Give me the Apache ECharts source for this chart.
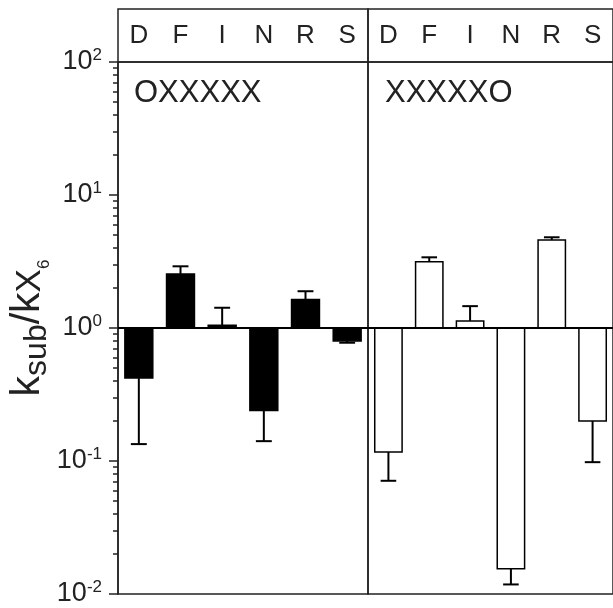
<!DOCTYPE html>
<html>
<head>
<meta charset="utf-8">
<script src="https://cdn.jsdelivr.net/npm/echarts@6/dist/echarts.min.js"></script>
<style>
html,body{margin:0;padding:0;background:#fff;}
#chart{width:613px;height:608px;}
</style>
</head>
<body>
<div id="chart"></div>
<script>
// ---- data ----
const categories = ['D', 'F', 'I', 'N', 'R', 'S'];
const panelLabels = ['OXXXXX', 'XXXXXO'];
// OXXXXX panel (black bars): ratio and end of error bar
const oxValues  = [0.42, 2.55, 1.05, 0.24, 1.64, 0.80];
const oxErrEnds = [0.134, 2.91, 1.42, 0.141, 1.89, 0.775];
// XXXXXO panel (white bars)
const xoValues  = [0.117, 3.15, 1.13, 0.0155, 4.59, 0.20];
const xoErrEnds = [0.071, 3.40, 1.46, 0.0118, 4.81, 0.098];
// axis ticks
const majorTicks = [0.01, 0.1, 1, 10, 100];
const minorTicks = [
  0.02, 0.03, 0.04, 0.05, 0.06, 0.07, 0.08, 0.09,
  0.2, 0.3, 0.4, 0.5, 0.6, 0.7, 0.8, 0.9,
  2, 3, 4, 5, 6, 7, 8, 9,
  20, 30, 40, 50, 60, 70, 80, 90
];
const baseValue = 1;

const FONT = 'Liberation Sans, Arial, sans-serif';
const INK = '#222';

function buildData(values, errs) {
  return values.map((v, i) => [i, v, errs[i]]);
}

function makeRender(fill) {
  return function (params, api) {
    const i = api.value(0), v = api.value(1), e = api.value(2);
    const p0 = api.coord([i, baseValue]);
    const p1 = api.coord([i, v]);
    const pe = api.coord([i, e]);
    const bw = api.size([1, 1])[0] * 0.67;
    const cap = bw * 0.57;
    const cs = params.coordSys;
    const children = [
      { type: 'line', shape: { x1: p1[0], y1: p1[1], x2: pe[0], y2: pe[1] }, style: { stroke: '#000', lineWidth: 2 } },
      { type: 'line', shape: { x1: pe[0] - cap / 2, y1: pe[1], x2: pe[0] + cap / 2, y2: pe[1] }, style: { stroke: '#000', lineWidth: 2 } },
      { type: 'rect', shape: { x: p0[0] - bw / 2, y: Math.min(p0[1], p1[1]), width: bw, height: Math.abs(p1[1] - p0[1]) },
        style: { fill: fill, stroke: '#000', lineWidth: 1.5 } }
    ];
    if (params.dataIndex === 0) {
      children.push({ type: 'line', z2: 10,
        shape: { x1: cs.x, y1: p0[1], x2: cs.x + cs.width, y2: p0[1] },
        style: { stroke: '#000', lineWidth: 2 } });
    }
    return { type: 'group', children: children };
  };
}

const gridStyle = { show: true, borderColor: INK, borderWidth: 1.5, backgroundColor: 'transparent' };
const hiddenCat = (g) => ({ gridIndex: g, type: 'category', data: categories, show: false });

const letterAxis = (g) => ({
  gridIndex: g, type: 'category', data: categories, position: 'top',
  axisLine: { show: false }, axisTick: { show: false }, splitLine: { show: false },
  axisLabel: { inside: true, margin: 14, fontSize: 26, fontFamily: FONT, color: INK, interval: 0 }
});

const chart = echarts.init(document.getElementById('chart'), null, { renderer: 'canvas' });
chart.setOption({
  animation: false,
  backgroundColor: '#fff',
  title: [
    { text: panelLabels[0], left: 134, top: 78, padding: 0,
      textStyle: { fontSize: 31, fontWeight: 'normal', fontFamily: FONT, color: INK } },
    { text: panelLabels[1], left: 385, top: 78, padding: 0,
      textStyle: { fontSize: 31, fontWeight: 'normal', fontFamily: FONT, color: INK } }
  ],
  grid: [
    Object.assign({ left: 118, top: 62, width: 250, height: 532 }, gridStyle),
    Object.assign({ left: 368, top: 62, width: 250, height: 532 }, gridStyle),
    Object.assign({ left: 118, top: 9, width: 250, height: 53 }, gridStyle),
    Object.assign({ left: 368, top: 9, width: 250, height: 53 }, gridStyle)
  ],
  xAxis: [hiddenCat(0), hiddenCat(1), letterAxis(2), letterAxis(3)],
  yAxis: [
    {
      gridIndex: 0, type: 'log', logBase: 10, min: 0.01, max: 100, position: 'left',
      axisLine: { show: true, lineStyle: { color: INK, width: 1.5 } },
      axisTick: { show: true, customValues: majorTicks, length: 9, lineStyle: { color: INK, width: 1.5 } },
      splitLine: { show: false },
      axisLabel: {
        customValues: majorTicks, margin: 16,
        formatter: function (val) {
          const ex = Math.round(Math.log10(val));
          return '{b|10}{s|' + ex + '}';
        },
        rich: {
          b: { fontSize: 27, fontFamily: FONT, color: INK, lineHeight: 30 },
          s: { fontSize: 17, fontFamily: FONT, color: INK, verticalAlign: 'top', lineHeight: 18 }
        }
      },
      name: '{k|k}{sub|sub}{k|/k}{x|X}{n|6}',
      nameLocation: 'middle', nameRotate: 90, nameGap: 68,
      nameTextStyle: {
        rich: {
          k: { fontSize: 41, fontFamily: FONT, color: INK, verticalAlign: 'bottom' },
          sub: { fontSize: 32, fontFamily: FONT, color: INK, verticalAlign: 'bottom', padding: [0, 0, -5, 0] },
          x: { fontSize: 35, fontFamily: FONT, color: INK, verticalAlign: 'bottom' },
          n: { fontSize: 17, fontFamily: FONT, color: INK, verticalAlign: 'bottom', padding: [0, 0, -5, 0] }
        }
      }
    },
    {
      gridIndex: 0, type: 'log', logBase: 10, min: 0.01, max: 100, position: 'left',
      axisLine: { show: false },
      axisTick: { show: true, customValues: minorTicks, length: 5, lineStyle: { color: INK, width: 1.5 } },
      axisLabel: { show: false }, splitLine: { show: false }
    },
    { gridIndex: 1, type: 'log', logBase: 10, min: 0.01, max: 100, show: false },
    { gridIndex: 2, type: 'value', show: false },
    { gridIndex: 3, type: 'value', show: false }
  ],
  series: [
    { type: 'custom', xAxisIndex: 0, yAxisIndex: 0, data: buildData(oxValues, oxErrEnds),
      encode: { x: 0, y: [1, 2] }, renderItem: makeRender('#000') },
    { type: 'custom', xAxisIndex: 1, yAxisIndex: 2, data: buildData(xoValues, xoErrEnds),
      encode: { x: 0, y: [1, 2] }, renderItem: makeRender('#fff') }
  ]
});
</script>
</body>
</html>
